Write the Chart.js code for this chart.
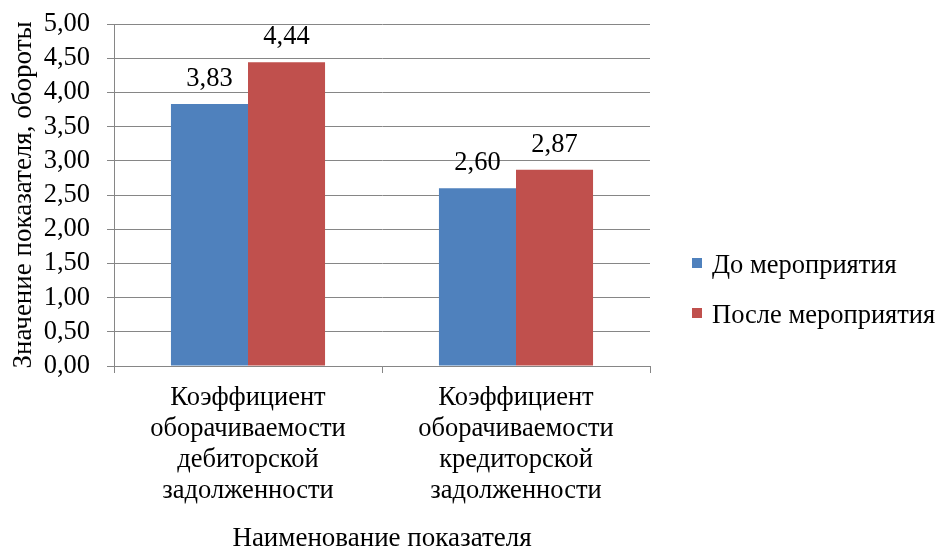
<!DOCTYPE html>
<html>
<head>
<meta charset="utf-8">
<script src="https://cdn.jsdelivr.net/npm/chart.js@4"></script>
<style>
  html, body { margin: 0; padding: 0; background: #fff; }
  #wrap { width: 937px; height: 547px; }
</style>
</head>
<body>
<div id="wrap"><canvas id="myChart" width="937" height="547"></canvas></div>
<script>
var categories = [
  ['Коэффициент', 'оборачиваемости', 'дебиторской', 'задолженности'],
  ['Коэффициент', 'оборачиваемости', 'кредиторской', 'задолженности']
];
var seriesNames = ['До мероприятия', 'После мероприятия'];
var beforeValues = [3.83, 2.60];
var afterValues = [4.44, 2.87];
var colors = ['#4F81BD', '#C0504D'];

var serif = '"Liberation Serif", "Times New Roman", serif';

function fmt(v) {
  return v.toFixed(2).replace('.', ',');
}

// value labels above each bar
var barLabels = {
  id: 'barLabels',
  afterDatasetsDraw: function(chart) {
    var ctx = chart.ctx;
    ctx.save();
    ctx.font = '26.5px ' + serif;
    ctx.fillStyle = '#000';
    ctx.textAlign = 'center';
    ctx.textBaseline = 'alphabetic';
    chart.data.datasets.forEach(function(ds, i) {
      chart.getDatasetMeta(i).data.forEach(function(bar, j) {
        ctx.fillText(fmt(ds.data[j]), bar.x, bar.y - 18);
      });
    });
    ctx.restore();
  }
};

// legend on the right side
var sideLegend = {
  id: 'sideLegend',
  afterDraw: function(chart) {
    var ctx = chart.ctx;
    ctx.save();
    ctx.font = '26.5px ' + serif;
    ctx.textBaseline = 'alphabetic';
    chart.data.datasets.forEach(function(ds, i) {
      var base = 273 + i * 50;
      ctx.fillStyle = ds.backgroundColor;
      ctx.fillRect(692, base - 15, 10, 10);
      ctx.fillStyle = '#000';
      ctx.fillText(ds.label, 712, base);
    });
    ctx.restore();
  }
};

var ctx = document.getElementById('myChart');
var myChart = new Chart(ctx, {
  type: 'bar',
  data: {
    labels: categories,
    datasets: [
      { label: seriesNames[0], data: beforeValues, backgroundColor: colors[0] },
      { label: seriesNames[1], data: afterValues, backgroundColor: colors[1] }
    ]
  },
  options: {
    responsive: false,
    animation: false,
    layout: { padding: { top: 24, right: 287, left: 0, bottom: 0 } },
    datasets: { bar: { categoryPercentage: 0.575, barPercentage: 1 } },
    plugins: { legend: { display: false }, tooltip: { enabled: false } },
    scales: {
      x: {
        offset: true,
        grid: { display: true, drawOnChartArea: false, drawTicks: true, tickLength: 7, color: '#868686', offset: true },
        border: { color: '#868686' },
        ticks: { color: '#000', padding: 10, font: { family: serif, size: 26.5, lineHeight: 1.17 }, maxRotation: 0, autoSkip: false },
        title: { display: true, text: 'Наименование показателя', color: '#000', font: { family: serif, size: 27, lineHeight: 0.6 }, padding: { top: 0, bottom: 0 } },
        afterFit: function(scale) { scale.height = 181; }
      },
      y: {
        min: 0, max: 5,
        grid: { color: '#868686', tickLength: 7 },
        border: { color: '#868686' },
        ticks: { stepSize: 0.5, autoSkip: false, color: '#000', padding: 17, font: { family: serif, size: 26.5 }, callback: function(v) { return fmt(v); } },
        title: { display: true, text: 'Значение показателя, обороты', color: '#000', font: { family: serif, size: 27 }, padding: { top: 8, bottom: 0 } },
        afterFit: function(scale) {
          scale.width = 114;
          scale.paddingTop = 12;
          scale.paddingBottom = 12;
        }
      }
    }
  },
  plugins: [barLabels, sideLegend]
});
</script>
</body>
</html>
